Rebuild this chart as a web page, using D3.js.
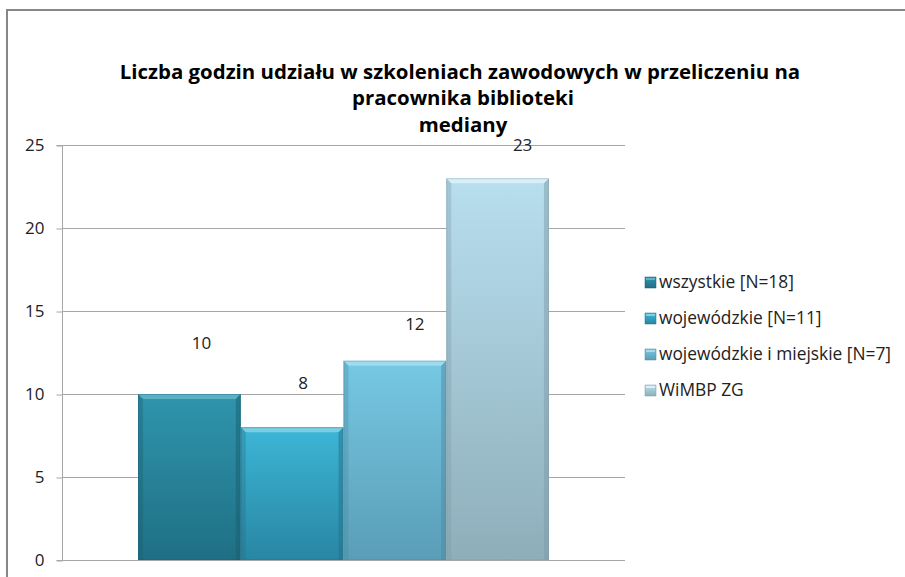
<!DOCTYPE html>
<html><head><meta charset="utf-8">
<script src="https://cdn.jsdelivr.net/npm/d3@7"></script>
<style>body{margin:0;background:#fff}svg{display:block}</style>
</head><body>
<svg id="c" width="905" height="577"></svg>
<script>
const titleLines = ["Liczba godzin udziału w szkoleniach  zawodowych w przeliczeniu na", "pracownika biblioteki", "mediany"];
const category = ["mediany"];
const seriesNames = ["wszystkie [N=18]", "wojewódzkie [N=11]", "wojewódzkie i miejskie [N=7]", "WiMBP ZG"];
const seriesValues = [10, 8, 12, 23];
const yTicks = [0, 5, 10, 15, 20, 25];

const colors = [
  {top:"#2f95ad", bot:"#1f6f84", bevel:"#5fb3c8", edge:"#1a5d6f"},
  {top:"#3db6d6", bot:"#2886a3", bevel:"#7fd0e6", edge:"#246f88"},
  {top:"#76c8e3", bot:"#5a9db7", bevel:"#a5dcee", edge:"#4e8aa1"},
  {top:"#b8dfef", bot:"#8eaeba", bevel:"#dbf0f8", edge:"#7e9ba6"}
];
const labelDx = [12, 11, 20, 25];
const labelDy = [51, 44, 37, 33];

const svg = d3.select("#c");
const font = "'Open Sans', 'Liberation Sans', sans-serif";

// outer chart border (extends past right/bottom)
svg.append("path").attr("d","M7,600 V10 H920").attr("fill","none").attr("stroke","#878787").attr("stroke-width",2);

const M = {left:62, right:625, top:145, bottom:560};
const y = d3.scaleLinear().domain([0,25]).range([M.bottom, M.top]);
const x0 = d3.scaleBand().domain(category).range([M.left, M.right]).paddingOuter(0.185).paddingInner(0);
const x1 = d3.scaleBand().domain(seriesNames).range([0, x0.bandwidth()]).padding(0);

// gradients
const defs = svg.append("defs");
colors.forEach((c,i)=>{
  const g = defs.append("linearGradient").attr("id","g"+i).attr("x1",0).attr("y1",0).attr("x2",0).attr("y2",1);
  g.append("stop").attr("offset","0%").attr("stop-color",c.top);
  g.append("stop").attr("offset","100%").attr("stop-color",c.bot);
});

// gridlines
const yAxis = d3.axisLeft(y).tickValues(yTicks).tickSize(6).tickFormat(d3.format("d"));
svg.append("g").selectAll("line").data(yTicks).join("line")
  .attr("x1",M.left).attr("x2",M.right).attr("y1",d=>y(d)+0.5).attr("y2",d=>y(d)+0.5)
  .attr("stroke","#a6a6a6").attr("stroke-width",1);
const ga = svg.append("g").attr("transform",`translate(${M.left+0.5},0.5)`).call(yAxis);
ga.select(".domain").attr("stroke","#a6a6a6").attr("d",`M-6,${M.top}H0V${M.bottom}H-6`);
ga.selectAll(".tick line").attr("stroke","#a6a6a6");
ga.selectAll(".tick text").attr("x",-18).attr("font-family",font).attr("font-size",17).attr("fill","#222");

// bars
const bars = svg.append("g");
seriesNames.forEach((s,i)=>{
  const bx = x0(category[0]) + x1(s), bw = x1.bandwidth();
  const by = y(seriesValues[i]), bh = y(0) - by;
  const c = colors[i], b = 5;
  const g = bars.append("g");
  g.append("rect").attr("x",bx).attr("y",by).attr("width",bw).attr("height",bh).attr("fill",`url(#g${i})`);
  g.append("path").attr("d",`M${bx},${by}H${bx+bw}L${bx+bw-b},${by+b}H${bx+b}Z`).attr("fill",c.bevel).attr("opacity",0.9);
  g.append("path").attr("d",`M${bx},${by}L${bx+b},${by+b}V${by+bh}H${bx}Z`).attr("fill",c.edge).attr("opacity",0.35);
  g.append("path").attr("d",`M${bx+bw},${by}L${bx+bw-b},${by+b}V${by+bh}H${bx+bw}Z`).attr("fill",c.edge).attr("opacity",0.5);
  g.append("rect").attr("x",bx+0.5).attr("y",by+0.5).attr("width",bw-1).attr("height",bh-1).attr("fill","none").attr("stroke",c.edge).attr("stroke-opacity",0.35);
  svg.append("text").attr("x",bx+bw/2+labelDx[i]).attr("y",by-labelDy[i]).attr("dy","0.35em")
    .attr("text-anchor","middle").attr("font-family",font).attr("font-size",17).attr("fill","#222").text(seriesValues[i]);
});

// title
const tY = [72, 98, 125];
const tt = svg.append("g");
const t0 = tt.append("text").attr("x",460).attr("y",tY[0]).attr("dy","0.35em").attr("text-anchor","middle")
  .attr("font-family",font).attr("font-weight","bold").attr("font-size",18).attr("fill","#000").text(titleLines[0]);
const fs = 18 * 681 / t0.node().getComputedTextLength();
t0.attr("font-size",fs);
titleLines.slice(1).forEach((t,k)=>{
  tt.append("text").attr("x",463).attr("y",tY[k+1]).attr("dy","0.35em").attr("text-anchor","middle")
    .attr("font-family",font).attr("font-weight","bold").attr("font-size",fs).attr("fill","#000").text(t);
});

// legend
const lg = svg.append("g");
const ly = [282, 318, 354, 390];
let lfs = 14;
seriesNames.forEach((s,i)=>{
  const c = colors[i];
  lg.append("rect").attr("x",645).attr("y",ly[i]-5).attr("width",11).attr("height",11).attr("fill",`url(#g${i})`).attr("stroke",c.edge).attr("stroke-width",0.5);
  lg.append("rect").attr("x",646).attr("y",ly[i]-4).attr("width",9).attr("height",2).attr("fill",c.bevel);
  const t = lg.append("text").attr("x",659).attr("y",ly[i]).attr("dy","0.35em").attr("font-family",font)
    .attr("font-size",lfs).attr("fill","#222").text(s);
  if(i===0){ lfs = 14 * 135 / t.node().getComputedTextLength(); t.attr("font-size",lfs); }
});
</script>
</body></html>
